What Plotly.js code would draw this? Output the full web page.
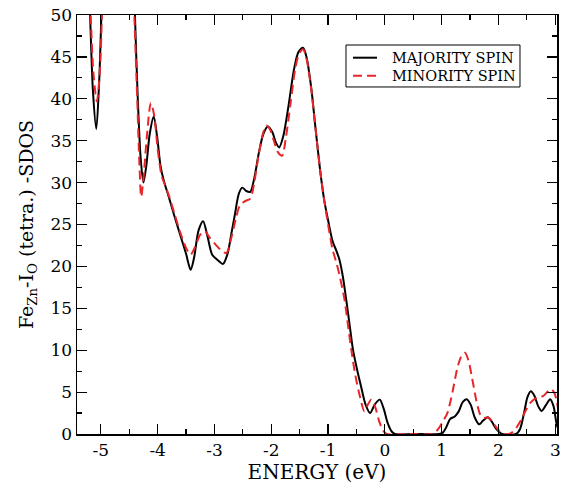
<!DOCTYPE html>
<html>
<head>
<meta charset="utf-8">
<script src="https://cdn.plot.ly/plotly-3.0.1.min.js"></script>
<style>
html,body{margin:0;padding:0;background:#fff;}
#chart{width:565px;height:487px;}
</style>
</head>
<body>
<div id="chart"></div>
<script>
const majE = [-5.42,-5.30,-5.22,-5.19,-5.14,-5.08,-5.03,-4.99,-4.95,-4.85,-4.50,-4.43,-4.40,-4.35,-4.30,-4.25,-4.20,-4.14,-4.07,-4.01,-3.95,-3.89,-3.80,-3.70,-3.60,-3.50,-3.42,-3.36,-3.28,-3.20,-3.12,-3.04,-2.95,-2.85,-2.77,-2.70,-2.64,-2.57,-2.51,-2.44,-2.37,-2.30,-2.22,-2.14,-2.06,-1.98,-1.92,-1.86,-1.79,-1.70,-1.60,-1.52,-1.44,-1.38,-1.30,-1.22,-1.14,-1.07,-1.00,-0.92,-0.85,-0.80,-0.74,-0.68,-0.62,-0.56,-0.49,-0.42,-0.34,-0.26,-0.18,-0.09,-0.02,0.05,0.12,0.18,0.50,0.95,1.01,1.08,1.15,1.23,1.30,1.37,1.44,1.51,1.58,1.66,1.73,1.81,1.88,1.96,2.05,2.31,2.38,2.45,2.51,2.57,2.63,2.70,2.76,2.84,2.91,2.97,3.03,3.10];
const majV = [90,70,55,50,41,36.4,42,50,58,75,75,58,50,40,33,30.0,32,35.8,37.9,35.5,32,30.2,28.2,25.9,23.7,21.5,19.6,21,24.3,25.4,23.5,21.4,20.8,20.3,21.5,24.0,26.2,28.7,29.4,29.0,28.9,30.5,33.5,35.8,36.7,36.0,34.8,34.2,35.5,39,43.5,45.6,46.1,45.0,41.5,36.4,31.5,28.0,25.5,23.0,21.8,20.8,18.8,16.0,13,10.0,7.7,5.7,3.5,2.5,3.5,4.1,3,1.3,0.3,0,0,0,0.1,0.8,1.8,2.1,2.7,3.8,4.15,3.5,2.0,1.15,1.6,2.0,1.5,0.6,0.05,0,0.6,2.5,4.4,5.1,4.6,3.3,2.75,3.5,4.15,3.3,1.0,0];
const minE = [-5.42,-5.30,-5.22,-5.18,-5.13,-5.07,-5.02,-4.98,-4.94,-4.85,-4.50,-4.44,-4.41,-4.36,-4.32,-4.29,-4.25,-4.19,-4.12,-4.06,-4.00,-3.93,-3.87,-3.80,-3.70,-3.60,-3.50,-3.42,-3.35,-3.25,-3.17,-3.08,-2.98,-2.88,-2.79,-2.70,-2.62,-2.55,-2.46,-2.37,-2.30,-2.22,-2.14,-2.09,-2.02,-1.95,-1.88,-1.81,-1.74,-1.66,-1.58,-1.51,-1.44,-1.38,-1.30,-1.22,-1.14,-1.07,-1.00,-0.92,-0.86,-0.80,-0.71,-0.65,-0.59,-0.52,-0.44,-0.36,-0.30,-0.24,-0.17,-0.10,-0.03,0.03,0.50,0.83,0.90,0.97,1.03,1.10,1.19,1.27,1.34,1.41,1.47,1.54,1.61,1.68,1.74,1.81,1.88,1.95,2.02,2.10,2.19,2.26,2.33,2.40,2.48,2.56,2.64,2.72,2.80,2.87,2.93,2.99,3.05];
const minV = [90,70,56,50,43,39.7,43,50,58,75,75,58,50,40,32,28.3,30.5,35.5,39.5,38,34,30.8,29.7,28.4,26.2,24.0,22.2,21.4,22.2,23.8,24.2,23.4,22.6,21.9,21.6,23.5,25.8,27.3,27.8,28.1,30.0,33.4,36.0,36.8,36.3,34.9,33.6,33.2,35.5,39.5,43.5,45.4,45.9,44.8,41.3,36.4,31.5,28.0,25.0,22.0,20.6,19.0,16.0,13,10.0,7.0,4.5,2.7,3.5,4.1,3.2,1.5,0.4,0,0,0,0.3,0.9,1.6,2.5,5.0,7.7,9.2,9.7,8.8,6.5,4.0,2.3,1.9,2.0,1.6,0.9,0.3,0,0,0.3,0.9,1.7,2.8,3.7,4.2,4.35,4.6,5.1,5.35,4.8,3.0];
const seriesNames = ['MAJORITY SPIN','MINORITY SPIN'];
const seriesColors = ['#000000','#e8262a'];
const xTickVals = [-5,-4,-3,-2,-1,0,1,2,3];
const xTickText = ['-5','-4','-3','-2','-1','0','1','2','3'];
const yTickVals = [0,5,10,15,20,25,30,35,40,45,50];

const font = 'DejaVu Serif';
const traces = [
  {x: majE, y: majV, name: seriesNames[0], type: 'scatter', mode: 'lines', showlegend: false,
   line: {color: seriesColors[0], width: 2, shape: 'spline', smoothing: 0.8}},
  {x: minE, y: minV, name: seriesNames[1], type: 'scatter', mode: 'lines', showlegend: false,
   line: {color: seriesColors[1], width: 2, dash: '9px,5px', shape: 'spline', smoothing: 0.8}}
];
// custom legend (paper coordinates = plot area)
const legBox = {x0: 0.5604, x1: 0.9229, y0: 0.8282, y1: 0.9284};
const legRows = [0.8981, 0.8551];
const shapes = [
  {type: 'rect', xref: 'paper', yref: 'paper', x0: legBox.x0, x1: legBox.x1, y0: legBox.y0, y1: legBox.y1,
   line: {color: '#000', width: 1}, fillcolor: '#fff', layer: 'above'},
  {type: 'line', xref: 'paper', yref: 'paper', x0: 0.575, x1: 0.625, y0: legRows[0], y1: legRows[0],
   line: {color: seriesColors[0], width: 2}, layer: 'above'},
  {type: 'line', xref: 'paper', yref: 'paper', x0: 0.575, x1: 0.625, y0: legRows[1], y1: legRows[1],
   line: {color: seriesColors[1], width: 2, dash: '9px,5px'}, layer: 'above'}
];
const annotations = seriesNames.map((n, i) => ({
  text: n, xref: 'paper', yref: 'paper', x: 0.6521, y: legRows[i], xanchor: 'left', yanchor: 'middle',
  showarrow: false, font: {family: font, size: 14.5, color: '#000'}
}));
const axisCommon = {
  showline: true, linecolor: '#000', linewidth: 1.5, mirror: 'ticks',
  ticks: 'inside', ticklen: 10, tickwidth: 1.2, tickcolor: '#000',
  showgrid: false, zeroline: false,
  tickfont: {family: font, size: 17, color: '#000'}
};
const layout = {
  width: 565, height: 487,
  margin: {l: 77, r: 8, t: 15, b: 53},
  paper_bgcolor: '#fff', plot_bgcolor: '#fff',
  font: {family: font, color: '#000'},
  showlegend: false,
  shapes: shapes,
  annotations: annotations,
  xaxis: Object.assign({}, axisCommon, {
    range: [-5.42, 3.03], tickvals: xTickVals, ticktext: xTickText,
    minor: {dtick: 0.5, ticklen: 5, ticks: 'inside', tickcolor: '#000', tickwidth: 1.2},
    title: {text: 'ENERGY (eV)', font: {family: font, size: 20, color: '#000'}, standoff: 4}
  }),
  yaxis: Object.assign({}, axisCommon, {
    range: [0, 50], tickvals: yTickVals,
    minor: {dtick: 2.5, ticklen: 5, ticks: 'inside', tickcolor: '#000', tickwidth: 1.2},
    title: {text: 'Fe<sub>Zn</sub>-I<sub>O</sub> (tetra.) -SDOS', font: {family: font, size: 19, color: '#000'}, standoff: 12}
  })
};
Plotly.newPlot('chart', traces, layout, {displayModeBar: false, staticPlot: true});
</script>
</body>
</html>
